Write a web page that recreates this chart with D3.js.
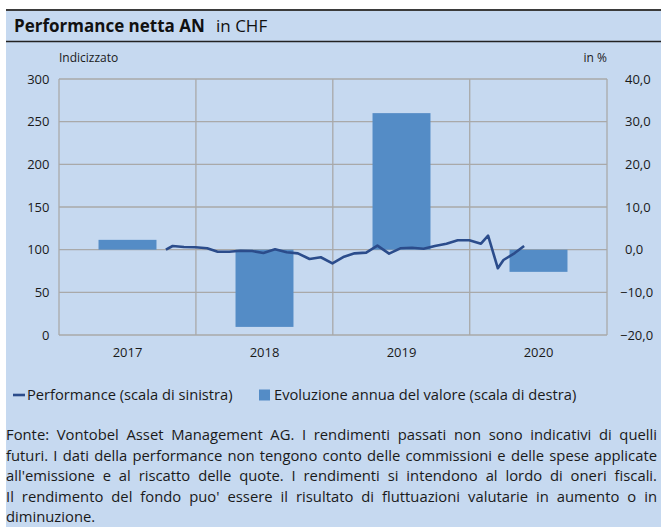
<!DOCTYPE html>
<html>
<head>
<meta charset="utf-8">
<script src="https://cdn.jsdelivr.net/npm/d3@7"></script>
<style>
  body { margin: 0; background: #fff; }
  svg { display: block; font-family: "Open Sans", Lato, sans-serif; }
</style>
</head>
<body>
<div id="chart"></div>
<script>
const years = ["2017", "2018", "2019", "2020"];
const annualChange = [2.3, -18.1, 32.0, -5.2];

const perfDates = [
  "2017-10-13", "2017-10-31", "2017-11-30", "2017-12-31",
  "2018-01-31", "2018-02-28", "2018-03-31", "2018-04-30", "2018-05-31", "2018-06-30",
  "2018-07-31", "2018-08-31", "2018-09-30", "2018-10-31", "2018-11-30", "2018-12-31",
  "2019-01-31", "2019-02-28", "2019-03-31", "2019-04-30", "2019-05-31", "2019-06-30",
  "2019-07-31", "2019-08-31", "2019-09-30", "2019-10-31", "2019-11-30", "2019-12-31",
  "2020-01-31", "2020-02-19", "2020-03-16", "2020-03-31", "2020-04-30", "2020-05-25"
];
const perfValues = [
  100.0, 104.3, 103.1, 102.8,
  101.6, 97.6, 97.6, 98.8, 98.4, 96.1,
  100.4, 96.9, 95.7, 89.1, 91.1, 84.0,
  91.8, 95.7, 96.5, 104.7, 95.3, 101.6,
  102.3, 101.1, 104.3, 107.0, 111.0, 111.0,
  107.0, 116.4, 78.2, 87.9, 96.0, 104.3
];

const leftTicks = [0, 50, 100, 150, 200, 250, 300];
const rightTicks = [-20, -10, 0, 10, 20, 30, 40];

const footerLines = [
  "Fonte: Vontobel Asset Management AG. I rendimenti passati non sono indicativi di quelli",
  "futuri. I dati della performance non tengono conto delle commissioni e delle spese applicate",
  "all'emissione e al riscatto delle quote. I rendimenti si intendono al lordo di oneri fiscali.",
  "Il rendimento del fondo puo' essere il risultato di fluttuazioni valutarie in aumento o in",
  "diminuzione."
];

const width = 661;
const height = 527;
const plot = { left: 59, right: 607, top: 79, bottom: 335 };

const bg = "#c6d9f0";
const gridColor = "#a9a9a9";
const barColor = "#548cc6";
const lineColor = "#2b4c8b";
const textColor = "#1a1a1a";

const svg = d3
  .select("#chart")
  .append("svg")
  .attr("width", width)
  .attr("height", height);

// panel + header
svg.append("rect")
  .attr("x", 6).attr("y", 10)
  .attr("width", width - 6).attr("height", height - 10)
  .attr("fill", bg);
svg.append("line")
  .attr("x1", 6).attr("x2", width).attr("y1", 10).attr("y2", 10)
  .attr("stroke", "#3b3b3b").attr("stroke-width", 2);
svg.append("line")
  .attr("x1", 6).attr("x2", width).attr("y1", 41.5).attr("y2", 41.5)
  .attr("stroke", "#222").attr("stroke-width", 1.5);

const title = svg.append("text")
  .attr("y", 32)
  .attr("font-size", 17)
  .attr("fill", "#111");
title.append("tspan").attr("x", 14).attr("font-weight", "bold").text("Performance netta AN");
title.append("tspan").attr("x", 216).text("in CHF");

// scales
const yLeft = d3.scaleLinear().domain([0, 300]).range([plot.bottom, plot.top]);
const yRight = d3.scaleLinear().domain([-20, 40]).range([plot.bottom, plot.top]);
const xBand = d3.scaleBand()
  .domain(years)
  .range([plot.left, plot.right])
  .paddingInner(0.577)
  .paddingOuter(0.2885);
const xTime = d3.scaleTime()
  .domain([new Date(2017, 0, 1), new Date(2021, 0, 1)])
  .range([plot.left, plot.right]);

// grid
const grid = svg.append("g");
grid.selectAll("line.h")
  .data(leftTicks)
  .enter()
  .append("line")
  .attr("x1", plot.left).attr("x2", plot.right)
  .attr("y1", d => yLeft(d)).attr("y2", d => yLeft(d))
  .attr("stroke", gridColor).attr("stroke-width", 1.3);
const yearEdges = years.map(y => new Date(+y, 0, 1)).concat([new Date(2021, 0, 1)]);
grid.selectAll("line.v")
  .data(yearEdges)
  .enter()
  .append("line")
  .attr("x1", d => xTime(d)).attr("x2", d => xTime(d))
  .attr("y1", plot.top).attr("y2", plot.bottom)
  .attr("stroke", gridColor).attr("stroke-width", 1.3);

// axes
const leftAxis = svg.append("g")
  .attr("transform", `translate(${plot.left},0)`)
  .call(d3.axisLeft(yLeft).tickValues(leftTicks).tickSize(0).tickPadding(9.5));
const rightAxis = svg.append("g")
  .attr("transform", `translate(${plot.right},0)`)
  .call(d3.axisRight(yRight).tickValues(rightTicks).tickSize(0).tickPadding(18)
    .tickFormat(d => d3.format(".1f")(d).replace(".", ",")));
const bottomAxis = svg.append("g")
  .attr("transform", `translate(0,${plot.bottom})`)
  .call(d3.axisBottom(xBand).tickSize(0).tickPadding(12.5));

[leftAxis, rightAxis, bottomAxis].forEach(a => {
  a.select(".domain").remove();
  a.selectAll("text")
    .attr("font-family", "'Open Sans', Lato, sans-serif")
    .attr("font-size", 13)
    .attr("fill", textColor);
});
// negative labels hang the minus sign to the left
rightAxis.selectAll(".tick text")
  .attr("x", d => (d < 0 ? 13 : 18));

svg.append("text")
  .attr("x", plot.left).attr("y", 62)
  .attr("font-size", 12)
  .attr("fill", textColor)
  .text("Indicizzato");
svg.append("text")
  .attr("x", plot.right).attr("y", 62)
  .attr("text-anchor", "end")
  .attr("font-size", 12)
  .attr("fill", textColor)
  .text("in %");

// bars
svg.append("g")
  .selectAll("rect")
  .data(years)
  .enter()
  .append("rect")
  .attr("x", d => xBand(d))
  .attr("width", xBand.bandwidth())
  .attr("y", (d, i) => yRight(Math.max(0, annualChange[i])))
  .attr("height", (d, i) => Math.abs(yRight(annualChange[i]) - yRight(0)))
  .attr("fill", barColor);

// performance line
const parseDate = d3.timeParse("%Y-%m-%d");
const perf = perfDates.map((d, i) => ({ date: parseDate(d), value: perfValues[i] }));
svg.append("path")
  .datum(perf)
  .attr("fill", "none")
  .attr("stroke", lineColor)
  .attr("stroke-width", 2.6)
  .attr("stroke-linejoin", "round")
  .attr("d", d3.line().x(d => xTime(d.date)).y(d => yLeft(d.value)));

// legend
const legend = svg.append("g").attr("transform", "translate(0,395)");
legend.append("line")
  .attr("x1", 13).attr("x2", 25).attr("y1", 0).attr("y2", 0)
  .attr("stroke", lineColor).attr("stroke-width", 2.6);
legend.append("text")
  .attr("x", 27).attr("y", 5)
  .attr("font-size", 14.7)
  .attr("fill", textColor)
  .text("Performance (scala di sinistra)");
legend.append("rect")
  .attr("x", 259).attr("y", -5.5)
  .attr("width", 11).attr("height", 11)
  .attr("fill", barColor);
legend.append("text")
  .attr("x", 274).attr("y", 5)
  .attr("font-size", 14.7)
  .attr("fill", textColor)
  .text("Evoluzione annua del valore (scala di destra)");

// footer, justified
const footer = svg.append("g");
const textLeft = 6;
const textRight = 657;
footerLines.forEach(function(line, i) {
  const t = footer.append("text")
    .attr("y", 440 + i * 20.5)
    .attr("font-size", 14.8)
    .attr("fill", textColor);
  const words = line.split(" ");
  if (i === footerLines.length - 1) {
    t.attr("x", textLeft).text(line);
    return;
  }
  const spans = words.map(w => t.append("tspan").text(w));
  const widths = spans.map(s => s.node().getComputedTextLength());
  const gap = (textRight - textLeft - d3.sum(widths)) / (words.length - 1);
  let x = textLeft;
  spans.forEach(function(s, j) {
    s.attr("x", x);
    x += widths[j] + gap;
  });
});
</script>
</body>
</html>
